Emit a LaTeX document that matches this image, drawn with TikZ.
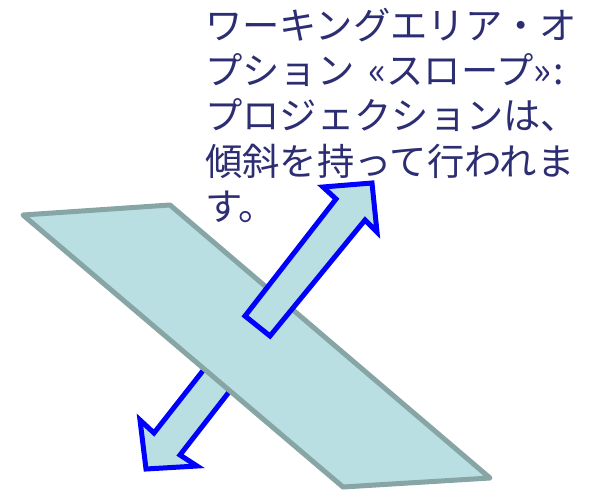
\documentclass[tikz,border=0pt]{standalone}
\usepackage{fontspec}
\newfontfamily\cjk{Noto Sans CJK JP}
\definecolor{fillc}{RGB}{185,223,227}
\definecolor{edgec}{RGB}{135,165,165}
\definecolor{txtc}{RGB}{45,45,115}
\begin{document}
\begin{tikzpicture}[x=1pt,y=-1pt,
  plane/.style={fill=fillc,draw=edgec,line width=5pt,line join=round},
  arrowshape/.style={fill=fillc,draw=blue,line width=5pt,line join=miter,miter limit=10},
  lbl/.style={anchor=base west,inner sep=0pt,text=txtc,font=\cjk\fontsize{37.3}{45}\selectfont}]
\useasboundingbox (0,0) rectangle (594,492);
% lower part of the arrow (under the plane)
\draw[arrowshape] (231,335) -- (154,433) -- (140,420) -- (146,469) -- (197,466) -- (180,455) -- (257,356) -- cycle;
% plane
\draw[plane] (23,215) -- (170,205) -- (490,478) -- (343,487) -- cycle;
% upper part of the arrow
\draw[arrowshape] (245,316) -- (336,199) -- (323,187) -- (372,183) -- (377,232) -- (365,220) -- (270,336) -- cycle;
% text
\node[lbl] (l1) at (205,40) {ワーキングエリア・オ};
\node[lbl] (l2) at (205,85) {プション\hspace{6pt} «スロープ»\hspace{2pt}:};
\node[lbl] (l3) at (205,130) {プロジェクションは、};
\node[lbl] (l4) at (205,175) {傾斜を持って行われま};
\node[lbl] (l5) at (205,220) {す。};
\end{tikzpicture}
\end{document}
